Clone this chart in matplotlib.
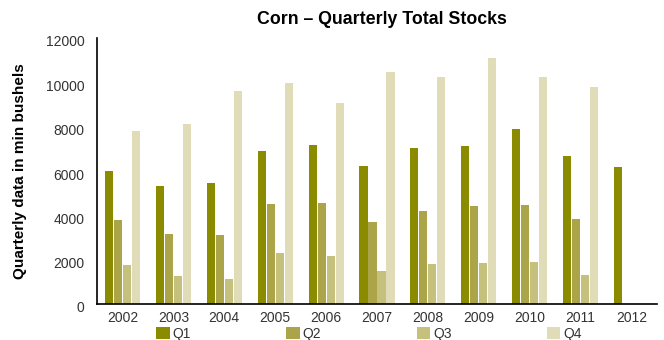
import matplotlib
matplotlib.use("Agg")
import matplotlib.pyplot as plt
import numpy as np
from matplotlib.patches import Patch
from matplotlib.transforms import ScaledTranslation

years = ["2002", "2003", "2004", "2005", "2006", "2007", "2008", "2009", "2010", "2011", "2012"]
q1 = [5990, 5310, 5440, 6910, 7180, 6240, 7040, 7130, 7890, 6690, 6200]
q2 = [3770, 3180, 3130, 4510, 4560, 3710, 4200, 4420, 4470, 3840, np.nan]
q3 = [1770, 1270, 1130, 2290, 2160, 1490, 1800, 1840, 1890, 1310, np.nan]
q4 = [7800, 8110, 9620, 9980, 9090, 10470, 10240, 11090, 10240, 9800, np.nan]
series_names = ["Q1", "Q2", "Q3", "Q4"]
colors = ["#8b8b00", "#aba448", "#c5c17d", "#e0dcb8"]
yticks = [0, 2000, 4000, 6000, 8000, 10000, 12000]

plt.rcParams['font.family'] = ['Liberation Sans', 'DejaVu Sans']

fig = plt.figure(figsize=(6.64, 3.40), dpi=100)
W, H = 664, 340
left, right, bottom_px, top_px = 97, 657, 304, 38
ax = fig.add_axes([left / W, (H - bottom_px) / H, (right - left) / W, (bottom_px - top_px) / H])

x = np.arange(len(years))
bw = 0.158
step = 0.177
for i, (vals, c) in enumerate(zip([q1, q2, q3, q4], colors)):
    ax.bar(x + (i - 1.5) * step, vals, width=bw, color=c, linewidth=0, label=series_names[i])

ax.set_xlim(-0.5, len(years) - 0.5)
ax.set_ylim(0, 12000)
ax.set_xticks(x)
ax.set_xticklabels(years)
ax.set_yticks(yticks)
ax.set_yticklabels([str(v) for v in yticks])
ax.tick_params(axis='both', length=0, labelsize=10, colors='#333333')
ax.tick_params(axis='x', pad=5)
ax.tick_params(axis='y', pad=9)
off = ScaledTranslation(0, -3 / 100, fig.dpi_scale_trans)
for lbl in ax.get_yticklabels():
    lbl.set_transform(lbl.get_transform() + off)
for s in ['top', 'right']:
    ax.spines[s].set_visible(False)
for s in ['left', 'bottom']:
    ax.spines[s].set_color('black')
    ax.spines[s].set_linewidth(1.2)

fig.text(382 / W, 1 - 20 / H, "Corn – Quarterly Total Stocks", ha='center', va='center',
         fontsize=12.8, fontweight='bold', color='black')
fig.text(20 / W, 1 - 171 / H, "Quarterly data in min bushels", ha='center', va='center',
         rotation=90, fontsize=11, fontweight='bold', color='black')

handles = [Patch(facecolor=c, edgecolor='none') for c in colors]
leg = fig.legend(handles, series_names, loc='center', bbox_to_anchor=(369 / W, 1 - 334 / H),
                 ncol=4, frameon=False, fontsize=10, handlelength=0.95, handleheight=0.95,
                 handletextpad=0.2, columnspacing=6.9, borderpad=0, borderaxespad=0)
for t in leg.get_texts():
    t.set_color('#333333')

fig.savefig("out.png", dpi=100)
